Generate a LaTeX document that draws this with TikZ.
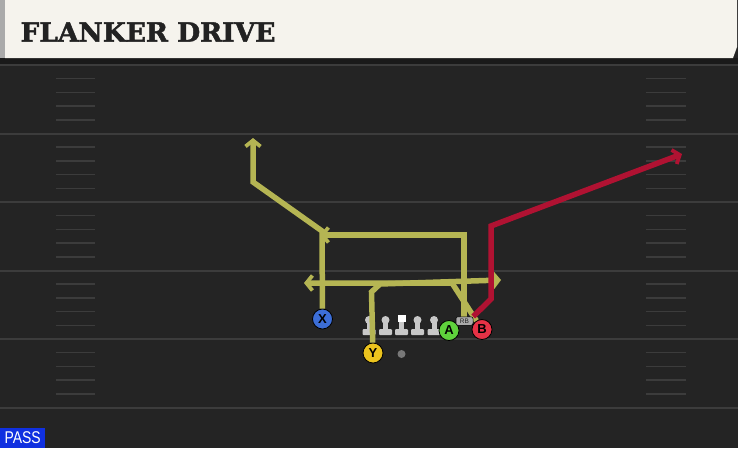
\documentclass[tikz,border=0pt]{standalone}
\usepackage{fontspec}
\setmainfont{Liberation Sans}
\newfontfamily\titlefont[FakeBold=1.8]{DejaVu Serif}
\usepackage{tikz}
\usetikzlibrary{arrows.meta}
\usepackage{tkz-euclide}

\definecolor{fieldbg}{RGB}{36,36,36}
\definecolor{bandgray}{RGB}{26,26,26}
\definecolor{yardgray}{RGB}{60,60,60}
\definecolor{headbeige}{RGB}{245,243,237}
\definecolor{headgray}{RGB}{170,170,170}
\definecolor{titleink}{RGB}{34,34,34}
\definecolor{routeyellow}{RGB}{181,181,83}
\definecolor{routered}{RGB}{176,18,50}
\definecolor{xblue}{RGB}{60,110,215}
\definecolor{yyellow}{RGB}{236,196,30}
\definecolor{agreen}{RGB}{95,210,60}
\definecolor{bred}{RGB}{230,50,70}
\definecolor{olgray}{RGB}{200,200,200}
\definecolor{ballgray}{RGB}{120,120,120}
\definecolor{rbgray}{RGB}{170,170,170}
\definecolor{passblue}{RGB}{16,48,224}

\begin{document}
\begin{tikzpicture}[x=1pt,y=-1pt,
  route/.style={line width=5.5pt, draw=routeyellow, line join=miter},
  hotroute/.style={route, draw=routered},
  tip/.style={-{Straight Barb[length=6pt,width=15pt,line width=3.8pt]}},
  player/.style={circle, draw=black, line width=0.8pt, minimum size=20pt, inner sep=0pt,
    text=black, font=\bfseries\fontsize{13}{13}\selectfont},
  rbbox/.style={rounded corners=2pt, fill=rbgray, draw=black, line width=0.5pt, inner sep=0pt,
    minimum width=17pt, minimum height=8.5pt, text=titleink, font=\fontsize{6.5}{6.5}\selectfont},
  yardline/.style={draw=yardgray, line width=2pt},
  hashmark/.style={draw=yardgray, line width=1.5pt}]

\useasboundingbox (0,0) rectangle (738,448);

%% 球场背景
\fill[fieldbg] (0,0) rectangle (738,448);
\fill[bandgray] (0,58) rectangle (738,64);

%% 码线和短码线
\foreach \y in {65,133.5,202,270.5,339,407.5}
  \draw[yardline] (0,\y) -- (738,\y);
\foreach \y in {65,133.5,202,270.5,339}
  \foreach \k in {1,...,4} {
    \draw[hashmark] (56,{\y+13.7*\k}) -- (95,{\y+13.7*\k});
    \draw[hashmark] (646,{\y+13.7*\k}) -- (686,{\y+13.7*\k});
  }

%% 标题栏
\fill[headgray] (0,0) rectangle (5,58);
\fill[headbeige] (5,0) -- (737,0) -- (737,47) -- (733,58) -- (5,58) -- cycle;
\node[anchor=west, text=titleink, font=\titlefont\bfseries\fontsize{26.5}{26.5}\selectfont]
  (title) at (17,32) {FLANKER DRIVE};

%% 锋线球员, 中锋是白色方块
\foreach \x in {369,385.5,417.5,434} {
  \fill[olgray] (\x,320) circle (4);
  \fill[olgray] (\x-2.5,320) rectangle (\x+2.5,331);
  \fill[olgray, rounded corners=1pt] (\x-6.5,329) rectangle (\x+6.5,335);
}
\fill[white] (397.5,315) rectangle (405.5,322);
\fill[olgray] (399,322) rectangle (404,331);
\fill[olgray, rounded corners=1pt] (395,329) rectangle (408,335);
\fill[ballgray] (401.5,354) circle (4);

%% 球员
\node[player, fill=xblue] (X) at (322.5,319) {X};
\node[player, fill=yyellow] (Y) at (373,353) {Y};
\node[player, fill=agreen] (A) at (449,330.5) {A};
\node[player, fill=bred] (B) at (482,329.5) {B};
\node[rbbox] (RB) at (464.5,321) {RB};

%% 路线的拐点
\tkzDefPoints{322/231/X1, 253/182/X2, 253/138/X3}
\tkzDefPoints{464/235/R1, 320/235/R2}
\tkzDefPoints{371.5/292/Y1, 380/284/Y2, 501/280/Y3}
\tkzDefPoints{452/283/B1, 304/283/B2}
\tkzDefPoints{491/299/H1, 491/226/H2, 682/154/H3}

%% 跑动路线
\draw[route, tip] (X) -- (X1) -- (X2) -- (X3);
\draw[route, tip] (RB.north -| R1) -- (R1) -- (R2);
\draw[route, tip] (Y) -- (Y1) -- (Y2) -- (Y3);
\draw[route, tip] (B) -- (B1) -- (B2);
\draw[hotroute, tip] (RB.north east) -- (H1) -- (H2) -- (H3);

%% 重新画 RB, 盖住路线
\node[rbbox] at (RB) {RB};

%% 战术类型
\node[fill=passblue, text=white, anchor=south west, inner sep=0pt,
  minimum width=45pt, minimum height=20pt, font=\fontsize{17}{17}\selectfont]
  (pass) at (0,448) {\scalebox{0.82}[1]{PASS}};

\end{tikzpicture}
\end{document}
